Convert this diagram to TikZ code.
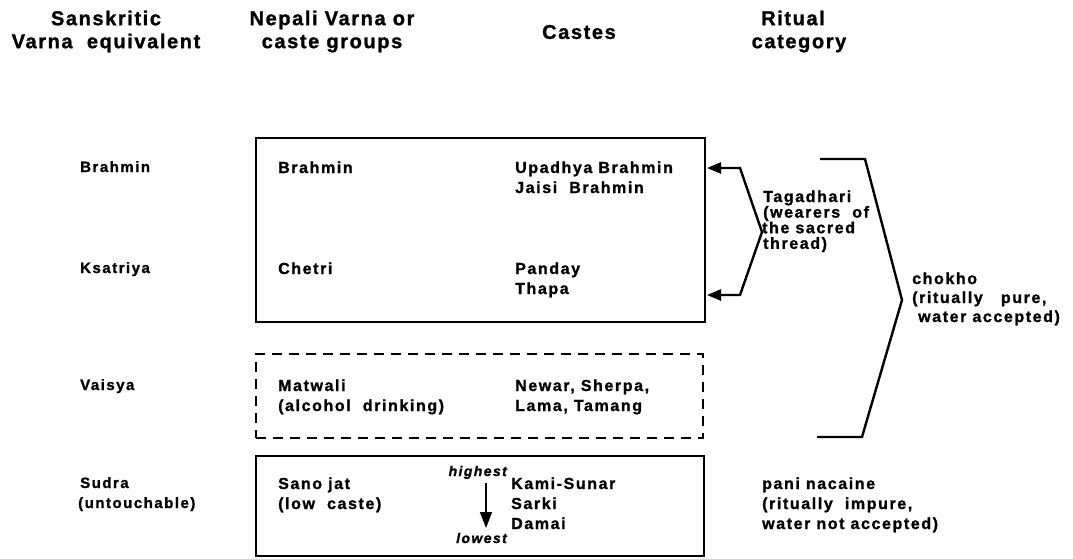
\documentclass[tikz,border=0pt]{standalone}
\usepackage{fontspec}
\setmainfont{Liberation Sans}[LetterSpace=8,BoldFont={Liberation Sans Bold},BoldItalicFont={Liberation Sans Bold Italic},BoldFeatures={FakeBold=1.2},BoldItalicFeatures={FakeBold=1.2}]
\usetikzlibrary{arrows.meta}
\begin{document}
\begin{tikzpicture}[x=1pt,y=-1pt,
  hdr/.style={font=\bfseries\fontsize{20}{23}\selectfont, align=center, inner sep=0pt},
  lbl/.style={font=\bfseries\fontsize{15}{20}\selectfont\addfontfeature{LetterSpace=10}, align=left, inner sep=0pt, anchor=base west},
  txt/.style={font=\bfseries\fontsize{16}{20}\selectfont\addfontfeature{LetterSpace=10}, align=left, inner sep=0pt, anchor=base west},
  rit/.style={font=\bfseries\fontsize{16}{15.6}\selectfont\addfontfeature{LetterSpace=10}, align=left, inner sep=0pt, anchor=base west},
  chk/.style={font=\bfseries\fontsize{16}{19}\selectfont\addfontfeature{LetterSpace=10}, align=left, inner sep=0pt, anchor=base west},
  rank/.style={font=\bfseries\itshape\fontsize{14}{15}\selectfont\addfontfeature{LetterSpace=10}, inner sep=0pt, anchor=base east},
  frame/.style={draw, line width=1.8pt, inner sep=0pt, anchor=north west},
  dashframe/.style={frame, line width=2pt, dash pattern=on 10pt off 7pt},
  brace/.style={line width=2.4pt, line join=miter},
  lefttip/.style={{Triangle[length=14pt,width=11pt]}-{Triangle[length=14pt,width=11pt]}}
]
\useasboundingbox (0,0) rectangle (1073,558);

% headers
\node[hdr] (h1) at (106,31.5) {Sanskritic\\Varna\ \ equivalent};
\node[hdr] (h2) at (332,31.5) {Nepali Varna or\\caste\ groups};
\node[hdr] (h3) at (579,32) {Castes};
\node[hdr] (h4) at (799,31.5) {Ritual\kern12pt\\category};

% boxes
\node[frame, minimum width=449pt, minimum height=184pt] (b1) at (255,137) {};
\node[dashframe, minimum width=447pt, minimum height=84pt] (b2) at (255,353) {};
\node[frame, minimum width=448pt, minimum height=100pt] (b3) at (255,455) {};

% left column (anchor = baseline of last line)
\node[lbl] (l1) at (80,172) {Brahmin};
\node[lbl] (l2) at (80,273) {Ksatriya};
\node[lbl] (l3) at (80,390) {Vaisya};
\node[lbl] (l4) at (80,508) {Sudra\\\kern-2pt(untouchable)};

% groups
\node[txt] (g1) at (278,173) {Brahmin};
\node[txt] (g2) at (278,274) {Chetri};
\node[txt] (g3) at (278,411) {Matwali\\(alcohol\ \ drinking)};
\node[txt] (g4) at (278,509) {Sano jat\\(low\ \ caste)};

% castes
\node[txt] (c1) at (515,193) {Upadhya Brahmin\\Jaisi\ \ Brahmin};
\node[txt] (c2) at (515,294) {Panday\\Thapa};
\node[txt] (c3) at (515,411) {Newar,\ Sherpa,\\Lama, Tamang};
\node[txt] (c4) at (511,529) {Kami-Sunar\\Sarki\\Damai};

% ranking arrow
\node[rank] (hi) at (507,476) {highest};
\node[rank] (lo) at (507,543) {lowest};
\draw[line width=1.6pt, -{Triangle[length=16pt,width=12pt]}] (hi.south -| 486,0) ++(0,4) coordinate (a1) -- (486,528) coordinate (a2);

% tagadhari brace with arrows
\coordinate (t1) at (707,168);
\coordinate (t2) at (707,295);
\draw[brace, lefttip]
  (t1) -- (740,168) -- (762,232) -- (740,295) -- (t2);
\node[rit] (r1) at (763,248.8) {Tagadhari\\(wearers\ \ of\\\kern-1pt the sacred\\thread)};

% chokho bracket
\coordinate (k1) at (820,159);
\coordinate (k2) at (817,437);
\draw[brace] (k1) -- (865,159) -- (902,300) -- (862,437) -- (k2);
\node[chk] (r2) at (912,322) {chokho\\(ritually\ \ \ pure,\\\kern6pt water accepted)};

% pani nacaine
\node[txt] (r3) at (762,529) {pani nacaine\\(ritually\ \ impure,\\water not accepted)};
\end{tikzpicture}
\end{document}
